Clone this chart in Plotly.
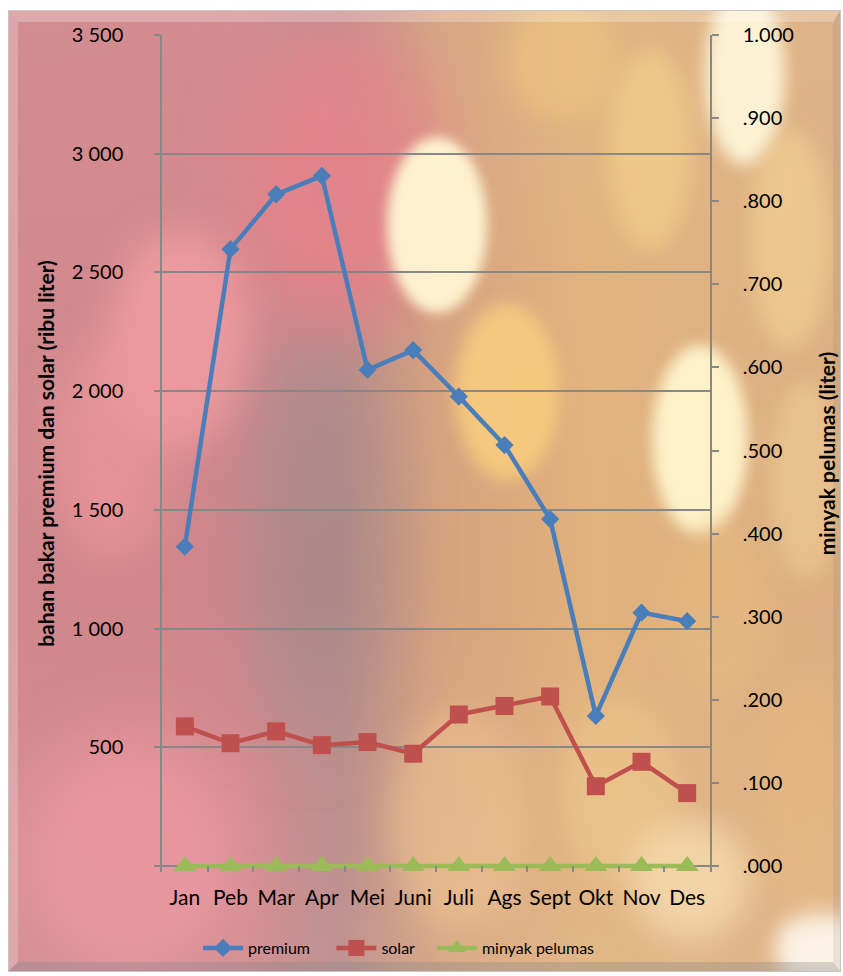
import base64
import plotly.graph_objects as go

months = ["Jan", "Peb", "Mar", "Apr", "Mei", "Juni", "Juli", "Ags", "Sept", "Okt", "Nov", "Des"]
premium = [1345, 2598, 2829, 2907, 2090, 2173, 1977, 1773, 1461, 632, 1067, 1031]
solar = [588, 517, 567, 509, 522, 473, 638, 674, 714, 336, 439, 307]
minyak_pelumas = [0, 0, 0, 0, 0, 0, 0, 0, 0, 0, 0, 0]

left_tickvals = [0, 500, 1000, 1500, 2000, 2500, 3000, 3500]
left_ticktext = ["", "500", "1 000", "1 500", "2 000", "2 500", "3 000", "3 500"]
right_tickvals = [0, 0.1, 0.2, 0.3, 0.4, 0.5, 0.6, 0.7, 0.8, 0.9, 1.0]
right_ticktext = [".000", ".100", ".200", ".300", ".400", ".500", ".600", ".700", ".800", ".900", "1.000"]

W, H = 843, 976
ML, MR, MT, MB = 162, 133, 35, 104
FONT = "Lato, 'Open Sans', sans-serif"
LMAX = 3500
# small extra room below zero so the zero line sits inside the plot area
LMIN = -LMAX * 6 / 831

# ---- decorative bokeh-like background (SVG) ----
blobs = [
    # cx, cy, rx, ry, color, opacity, blur
    (340, 180, 100, 160, "#e57f86", 0.85, 30),
    (180, 340, 70, 110, "#f39ca0", 0.8, 18),
    (110, 450, 60, 110, "#f0979d", 0.6, 20),
    (310, 540, 70, 200, "#9f8888", 0.55, 35),
    (130, 850, 110, 120, "#f295a2", 0.65, 30),
    (437, 225, 50, 88, "#fff6d2", 0.95, 6),
    (507, 392, 52, 88, "#f8cd7c", 0.85, 8),
    (560, 60, 55, 60, "#efc27c", 0.6, 12),
    (650, 150, 42, 100, "#f3cc86", 0.7, 10),
    (745, 75, 40, 90, "#fff8da", 0.9, 8),
    (790, 240, 40, 110, "#f5d493", 0.6, 10),
    (700, 440, 48, 95, "#fff4cc", 0.95, 7),
    (805, 480, 35, 100, "#f0cf98", 0.55, 10),
    (720, 610, 50, 90, "#e9bd82", 0.5, 12),
    (460, 820, 70, 110, "#eec38c", 0.55, 15),
    (620, 790, 60, 90, "#f1c98c", 0.5, 15),
    (690, 880, 60, 60, "#fbe6b8", 0.6, 15),
    (820, 950, 45, 40, "#fffaf0", 0.9, 10),
    (810, 800, 50, 120, "#e9b878", 0.5, 15),
]

svg_parts = [
    f'<svg xmlns="http://www.w3.org/2000/svg" width="{W}" height="{H}" viewBox="0 0 {W} {H}">',
    "<defs>",
    '<linearGradient id="base" x1="0" y1="0" x2="1" y2="0">'
    '<stop offset="0" stop-color="#d0878b"/>'
    '<stop offset="0.28" stop-color="#d1868b"/>'
    '<stop offset="0.40" stop-color="#b98a88"/>'
    '<stop offset="0.52" stop-color="#d6a27e"/>'
    '<stop offset="0.70" stop-color="#e0b27c"/>'
    '<stop offset="1" stop-color="#dcae82"/>'
    "</linearGradient>",
    '<linearGradient id="vert" x1="0" y1="0" x2="0" y2="1">'
    '<stop offset="0" stop-color="#ffffff" stop-opacity="0.05"/>'
    '<stop offset="0.6" stop-color="#ffffff" stop-opacity="0"/>'
    '<stop offset="1" stop-color="#ffffff" stop-opacity="0.08"/>'
    "</linearGradient>",
    '<clipPath id="clip"><rect x="8" y="10" width="833" height="962"/></clipPath>',
]
for i, b in enumerate(blobs):
    svg_parts.append(
        f'<filter id="f{i}" x="-60%" y="-60%" width="220%" height="220%">'
        f'<feGaussianBlur stdDeviation="{b[6]}"/></filter>'
    )
svg_parts.append("</defs>")
svg_parts.append('<rect x="0" y="0" width="843" height="976" fill="#ffffff"/>')
svg_parts.append('<g clip-path="url(#clip)">')
svg_parts.append('<rect x="8" y="10" width="833" height="962" fill="url(#base)"/>')
for i, (cx, cy, rx, ry, col, op, bl) in enumerate(blobs):
    svg_parts.append(
        f'<ellipse cx="{cx}" cy="{cy}" rx="{rx}" ry="{ry}" fill="{col}" '
        f'fill-opacity="{op}" filter="url(#f{i})"/>'
    )
svg_parts.append('<rect x="8" y="10" width="833" height="962" fill="url(#vert)"/>')
svg_parts.append("</g>")
# bevel frame
svg_parts.append('<rect x="8.5" y="10.5" width="832" height="961" fill="none" stroke="#c8c2c2" stroke-width="1"/>')
svg_parts.append('<path d="M9,11 L840,11 L833,22 L18,22 Z" fill="#ffffff" fill-opacity="0.25"/>')
svg_parts.append('<path d="M9,11 L18,22 L18,962 L9,971 Z" fill="#ffffff" fill-opacity="0.22"/>')
svg_parts.append('<path d="M840,11 L840,971 L833,962 L833,22 Z" fill="#7a6a60" fill-opacity="0.12"/>')
svg_parts.append('<path d="M9,971 L840,971 L833,962 L18,962 Z" fill="#8a8a8a" fill-opacity="0.35"/>')
svg_parts.append("</svg>")
svg = "".join(svg_parts)
bg_uri = "data:image/svg+xml;base64," + base64.b64encode(svg.encode("utf-8")).decode("ascii")

pw = W - ML - MR
ph = H - MT - MB
NB = "\u00a0"

fig = go.Figure()
fig.add_trace(go.Scatter(
    x=months, y=premium, name="premium" + NB * 4, mode="lines+markers",
    line=dict(color="#4a7ebb", width=4.5),
    marker=dict(symbol="diamond", size=14, color="#4a7ebb"),
    cliponaxis=False, yaxis="y", legendrank=1,
))
fig.add_trace(go.Scatter(
    x=months, y=solar, name="solar" + NB * 3, mode="lines+markers",
    line=dict(color="#c0504d", width=4.5),
    marker=dict(symbol="square", size=18, color="#c0504d"),
    cliponaxis=False, yaxis="y", legendrank=2,
))
fig.add_trace(go.Scatter(
    x=months, y=minyak_pelumas, name="minyak pelumas", mode="lines+markers",
    line=dict(color="#9bbb59", width=4.5),
    marker=dict(symbol="triangle-up", size=20, color="#9bbb59",
                line=dict(width=0)),
    yaxis="y2", cliponaxis=False, legendrank=3,
))

fig.update_layout(
    width=W, height=H,
    margin=dict(l=ML, r=MR, t=MT, b=MB, pad=0, autoexpand=False),
    paper_bgcolor="#ffffff",
    plot_bgcolor="rgba(0,0,0,0)",
    font=dict(family=FONT, color="#000000", size=20),
    images=[dict(
        source=bg_uri, xref="paper", yref="paper",
        x=-ML / pw, y=1 + MT / ph, sizex=W / pw, sizey=H / ph,
        xanchor="left", yanchor="top", sizing="stretch", layer="below",
    )],
    xaxis=dict(
        type="category", categoryorder="array", categoryarray=months,
        range=[-0.5, len(months) - 0.5],
        showgrid=False, showline=False,
        ticks="inside", ticklen=6, tickcolor="#888888", tickwidth=1.5,
        tickson="boundaries", ticklabelstandoff=11, tickangle=0,
        tickfont=dict(size=21, family=FONT), zeroline=False,
    ),
    yaxis2=dict(
        side="right", anchor="x", range=[LMIN / LMAX, 1],
        tickvals=right_tickvals, ticktext=right_ticktext,
        showgrid=False, showline=True, linecolor="#888888", linewidth=1.5,
        ticks="outside", ticklen=7, tickcolor="#888888", tickwidth=1.5,
        ticklabelstandoff=20, zeroline=False,
        tickfont=dict(size=20, family=FONT),
        title=dict(text="<b>minyak pelumas (liter)</b>",
                   font=dict(size=21, family=FONT), standoff=27),
    ),
    yaxis=dict(
        overlaying="y2", side="left", anchor="x",
        range=[LMIN, LMAX], tickvals=left_tickvals, ticktext=left_ticktext,
        showgrid=True, gridcolor="#888888", gridwidth=1.5,
        showline=True, linecolor="#888888", linewidth=1.5,
        ticks="outside", ticklen=6, tickcolor="#888888", tickwidth=1.5,
        ticklabelstandoff=27, zeroline=False,
        tickfont=dict(size=20, family=FONT),
        title=dict(text="<b>bahan bakar premium dan solar (ribu liter)</b>",
                   font=dict(size=21, family=FONT), standoff=11),
    ),
    legend=dict(
        orientation="h", x=(198 - ML) / pw, xanchor="left",
        y=-(948 - (MT + ph)) / ph, yanchor="middle",
        bgcolor="rgba(0,0,0,0)", font=dict(size=16, family=FONT),
        itemwidth=40, tracegroupgap=0,
    ),
    showlegend=True,
)

fig.write_html(
    "out.html",
    config={"displayModeBar": False},
    post_script="document.body.style.margin='0px';document.body.style.overflow='hidden';",
)
